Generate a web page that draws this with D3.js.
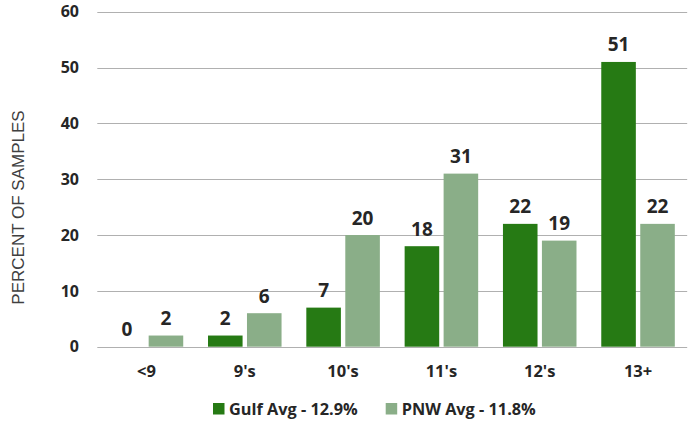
<!DOCTYPE html>
<html>
<head>
<meta charset="utf-8">
<script src="https://cdn.jsdelivr.net/npm/d3@7"></script>
<style>
  html, body { margin: 0; padding: 0; background: #fff; }
  svg { display: block; }
</style>
</head>
<body>
<div id="chart"></div>
<script>
// categories and series
var categories = ["<9", "9's", "10's", "11's", "12's", "13+"];
var seriesNames = ["Gulf Avg - 12.9%", "PNW Avg - 11.8%"];
var gulfValues = [0, 2, 7, 18, 22, 51];
var pnwValues = [2, 6, 20, 31, 19, 22];
var yTicks = [0, 10, 20, 30, 40, 50, 60];
var colors = ["#267a14", "#8aae88"];

var width = 694, height = 423;
var x0 = 97.3, x1 = 687.2, yTop = 11.7, yBottom = 346.7;

var svg = d3.select("#chart").append("svg")
	.attr("width", width)
	.attr("height", height);

var x = d3.scaleBand()
	.domain(categories)
	.range([x0, x1])
	.paddingInner(0.252)
	.paddingOuter(0.126);

var sub = d3.scaleBand()
	.domain([0, 1])
	.range([0, x.bandwidth()])
	.paddingInner(0.113);

var y = d3.scaleLinear()
	.domain([0, 60])
	.range([yBottom, yTop]);

// gridlines
svg.append("g").selectAll("line")
	.data(yTicks).enter()
	.append("line")
	.attr("x1", x0)
	.attr("x2", x1)
	.attr("y1", function(d) { return Math.round(y(d)) + 0.5; })
	.attr("y2", function(d) { return Math.round(y(d)) + 0.5; })
	.attr("stroke", "#b0b0b0")
	.attr("stroke-width", 1);

// y tick labels
svg.append("g").selectAll("text")
	.data(yTicks).enter()
	.append("text")
	.attr("x", 79)
	.attr("y", function(d) { return y(d); })
	.attr("dy", "0.36em")
	.attr("text-anchor", "end")
	.attr("font-family", "Open Sans")
	.attr("font-weight", 700)
	.attr("font-size", 16)
	.attr("fill", "#262626")
	.text(function(d) { return d; });

// y title
svg.append("text")
	.attr("transform", "translate(24,207.5) rotate(-90)")
	.attr("text-anchor", "middle")
	.attr("font-family", "Liberation Sans")
	.attr("font-size", 17)
	.attr("fill", "#404040")
	.text("PERCENT OF SAMPLES");

// bars
var series = [gulfValues, pnwValues];
var rows = [];
categories.forEach(function(c, i) {
	series.forEach(function(s, j) {
		rows.push({cat: c, s: j, v: s[i]});
	});
});

svg.append("g").selectAll("rect")
	.data(rows).enter()
	.append("rect")
	.attr("x", function(d) { return x(d.cat) + sub(d.s); })
	.attr("width", sub.bandwidth())
	.attr("y", function(d) { return y(d.v); })
	.attr("height", function(d) { return y(0) - y(d.v); })
	.attr("fill", function(d) { return colors[d.s]; });

// value labels
svg.append("g").selectAll("text")
	.data(rows).enter()
	.append("text")
	.attr("x", function(d) { return x(d.cat) + sub(d.s) + sub.bandwidth() / 2; })
	.attr("y", function(d) { return y(d.v) - 10.5; })
	.attr("text-anchor", "middle")
	.attr("font-family", "Open Sans")
	.attr("font-weight", 700)
	.attr("font-size", 19)
	.attr("fill", "#262626")
	.text(function(d) { return d.v; });

// x labels
svg.append("g").selectAll("text")
	.data(categories).enter()
	.append("text")
	.attr("x", function(d) { return x(d) + x.bandwidth() / 2; })
	.attr("y", 377)
	.attr("text-anchor", "middle")
	.attr("font-family", "Open Sans")
	.attr("font-weight", 700)
	.attr("font-size", 16.5)
	.attr("fill", "#262626")
	.text(function(d) { return d; });

// legend
var legendX = [213, 385.7];
var legend = svg.append("g").selectAll("g")
	.data(seriesNames).enter()
	.append("g")
	.attr("transform", function(d, i) { return "translate(" + legendX[i] + ",403)"; });
legend.append("rect")
	.attr("width", 11.5)
	.attr("height", 11.5)
	.attr("fill", function(d, i) { return colors[i]; });
legend.append("text")
	.attr("x", 16)
	.attr("y", 6)
	.attr("dy", "0.36em")
	.attr("font-family", "Open Sans")
	.attr("font-weight", 700)
	.attr("font-size", 16.3)
	.attr("fill", "#262626")
	.text(function(d) { return d; });
</script>
</body>
</html>
